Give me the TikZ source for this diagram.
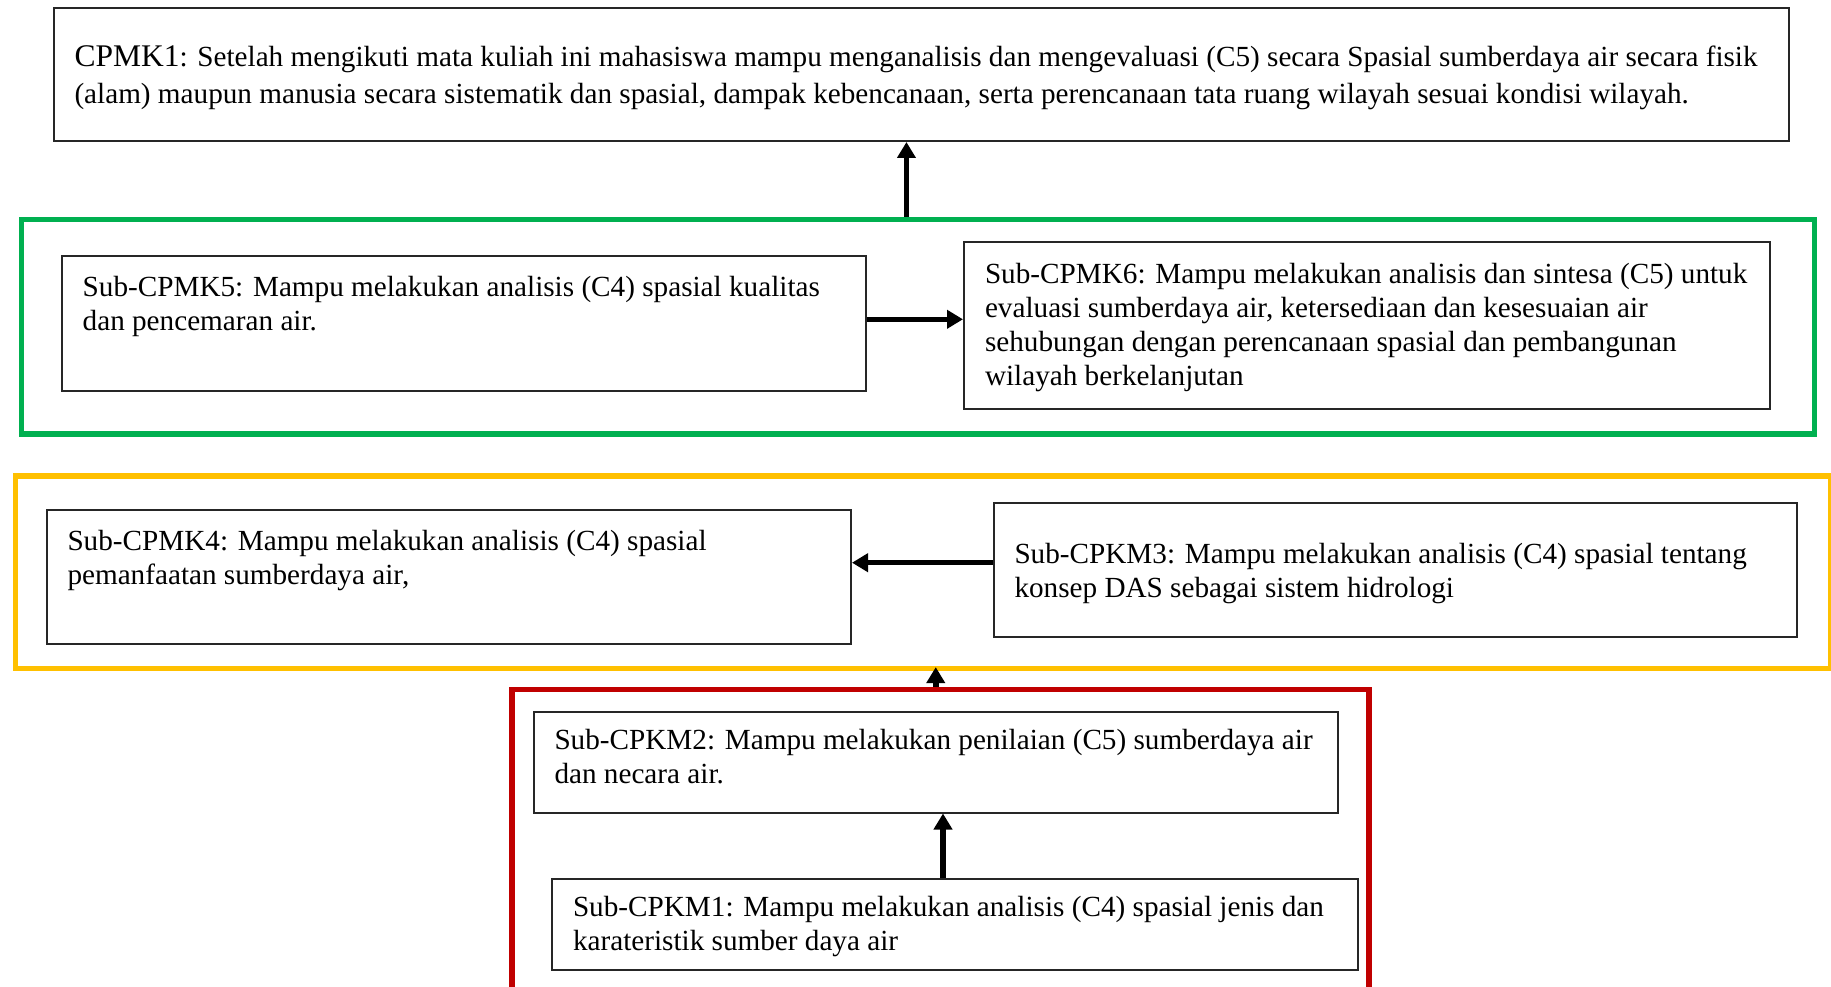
\documentclass[tikz,border=0pt]{standalone}
\usepackage{fontspec}
\setmainfont{Liberation Serif}
\usetikzlibrary{arrows.meta}
\definecolor{grn}{HTML}{00B050}
\definecolor{ylw}{HTML}{FFC000}
\definecolor{rd}{HTML}{C00000}
\newcommand{\bxt}[4]{\parbox[c][#2][t]{#1}{\raggedright\leftskip=21pt\relax\rule{0pt}{#3}#4\par}}
\begin{document}
\begin{tikzpicture}[x=1pt,y=-1pt,
  cbox/.style={draw=black!85, line width=2pt, inner sep=0pt, anchor=north west, font=\fontsize{29.2}{34.3}\selectfont},
  grp/.style={line width=5.5pt, inner sep=0pt, anchor=north west},
  arr/.style={line width=5.5pt, -{Triangle[width=18pt,length=16pt]}}]
\useasboundingbox (0,0) rectangle (1831,987);
% group frames
\node[grp, draw=grn, minimum width=1793pt, minimum height=214pt] (green) at (18.7,217) {};
\node[grp, draw=ylw, minimum width=1814.7pt, minimum height=192.6pt] (yellow) at (12.8,473) {};
\node[grp, draw=rd, minimum width=857pt, minimum height=330pt] (red) at (509,686.6) {};
% boxes
\node[cbox, font=\fontsize{29.2}{36.5}\selectfont] (cpmk1) at (52.5,7) {\bxt{1735pt}{133pt}{59pt}{{\fontsize{31.5}{36.5}\selectfont CPMK1}: Setelah mengikuti mata kuliah ini mahasiswa mampu menganalisis dan mengevaluasi (C5) secara Spasial sumberdaya air secara fisik\\(alam) maupun manusia secara sistematik dan spasial, dampak kebencanaan, serta perencanaan tata ruang wilayah sesuai kondisi wilayah.}};
\node[cbox] (s5) at (60.7,254.6) {\bxt{804pt}{135.4pt}{40.5pt}{Sub-CPMK5: Mampu melakukan analisis (C4) spasial kualitas\\dan pencemaran air.}};
\node[cbox] (s6) at (963,240.5) {\bxt{806pt}{167pt}{41.5pt}{Sub-CPMK6: Mampu melakukan analisis dan sintesa (C5) untuk\\evaluasi sumberdaya air, ketersediaan dan kesesuaian air\\sehubungan dengan perencanaan spasial dan pembangunan\\wilayah berkelanjutan}};
\node[cbox] (s4) at (45.5,509) {\bxt{804.5pt}{134.4pt}{40.5pt}{Sub-CPMK4: Mampu melakukan analisis (C4) spasial\\pemanfaatan sumberdaya air,}};
\node[cbox] (s3) at (992.5,502) {\bxt{803.5pt}{134.4pt}{60.5pt}{Sub-CPKM3: Mampu melakukan analisis (C4) spasial tentang\\konsep DAS sebagai sistem hidrologi}};
\node[cbox] (s2) at (532.5,711) {\bxt{804.5pt}{100.5pt}{37.5pt}{Sub-CPKM2: Mampu melakukan penilaian (C5) sumberdaya air\\dan necara air.}};
\node[cbox] (s1) at (551,878) {\bxt{806pt}{91pt}{37pt}{Sub-CPKM1: Mampu melakukan analisis (C4) spasial jenis dan\\karateristik sumber daya air}};
% connectors
\draw[arr] ([xshift=-11.5pt]green.north) -- ([xshift=-11.5pt]green.north |- cpmk1.south);
\draw[arr] ([yshift=4pt]s5.east) -- ([yshift=4pt]s5.east -| s6.west);
\draw[arr] ([yshift=7.5pt]s3.west) -- ([yshift=7.5pt]s3.west -| s4.east);
\draw[arr] ([xshift=-4.5pt]red.north) -- ([xshift=-4.5pt,yshift=4pt]red.north |- yellow.south);
\draw[arr] ([xshift=-12pt]s1.north) -- ([xshift=-12pt]s1.north |- s2.south);
\end{tikzpicture}
\end{document}
